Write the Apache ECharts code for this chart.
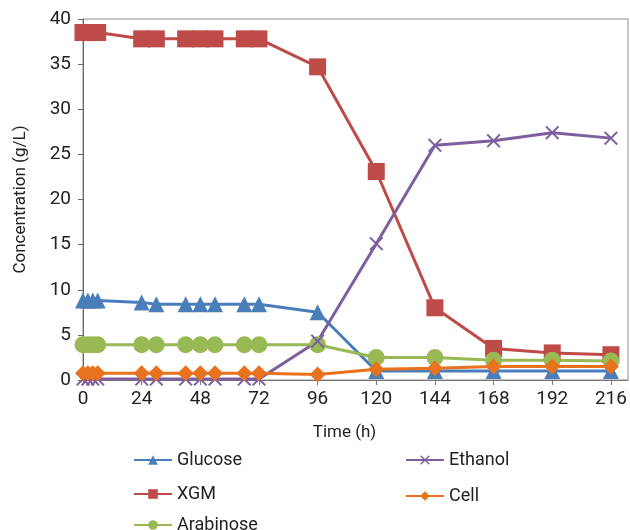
<!DOCTYPE html>
<html>
<head>
<meta charset="utf-8">
<script src="https://cdn.jsdelivr.net/npm/echarts@6/dist/echarts.min.js"></script>
<style>
html,body{margin:0;padding:0;background:#fff;}
#chart{width:630px;height:530px;}
</style>
</head>
<body>
<div id="chart"></div>
<script>
var times = [0, 2, 4, 6, 24, 30, 42, 48, 54, 66, 72, 96, 120, 144, 168, 192, 216];
var xTicks = [0, 24, 48, 72, 96, 120, 144, 168, 192, 216];
var glucose   = [8.8, 8.8, 8.8, 8.8, 8.6, 8.4, 8.4, 8.4, 8.4, 8.4, 8.4, 7.5, 1.0, 1.0, 1.0, 1.0, 1.0];
var xgm       = [38.5, 38.5, 38.5, 38.5, 37.8, 37.8, 37.8, 37.8, 37.8, 37.8, 37.8, 34.7, 23.1, 8.0, 3.5, 3.0, 2.8];
var arabinose = [3.9, 3.9, 3.9, 3.9, 3.9, 3.9, 3.9, 3.9, 3.9, 3.9, 3.9, 3.9, 2.5, 2.5, 2.2, 2.2, 2.1];
var ethanol   = [0.1, 0.1, 0.1, 0.1, 0.1, 0.1, 0.1, 0.1, 0.1, 0.1, 0.1, 4.3, 15.1, 26.0, 26.5, 27.4, 26.8];
var cell      = [0.75, 0.75, 0.75, 0.75, 0.75, 0.75, 0.75, 0.75, 0.75, 0.75, 0.75, 0.6, 1.2, 1.3, 1.5, 1.5, 1.5];

function pairs(vals){ return times.map(function(t,i){ return [t, vals[i]]; }); }

var FONT = 'Roboto, "Liberation Sans", sans-serif';
var crossPath = 'path://M0,1 L1,0 L5,4 L9,0 L10,1 L6,5 L10,9 L9,10 L5,6 L1,10 L0,9 L4,5 Z';

function mk(name, vals, color, symbol, size){
  return {
    name: name, type: 'line', data: pairs(vals),
    symbol: symbol, symbolSize: size, showAllSymbol: true,
    lineStyle: {width: 3, color: color},
    itemStyle: {color: color},
    emphasis: {disabled: true},
    animation: false
  };
}
function leg(name, left, top){
  return {data: [name], left: left, top: top, itemWidth: 38, itemHeight: 12, itemGap: 10,
    textStyle: {fontFamily: FONT, fontSize: 18, color: '#222'}};
}

var chart = echarts.init(document.getElementById('chart'));
chart.setOption({
  animation: false,
  grid: {left: 83, top: 19, right: 2, bottom: 150, show: true, borderColor: '#8c8c8c', borderWidth: 1},
  xAxis: {
    type: 'value', min: 0, max: 223,
    name: 'Time (h)', nameLocation: 'middle', nameGap: 44,
    nameTextStyle: {fontFamily: FONT, fontSize: 17, color: '#222', padding: [0, 22, 0, 0]},
    axisLine: {lineStyle: {color: '#777', width: 1}},
    axisTick: {show: true, inside: false, length: 5, customValues: xTicks, lineStyle: {color: '#777'}},
    axisLabel: {customValues: xTicks, fontFamily: FONT, fontSize: 19, color: '#222', margin: 10},
    splitLine: {show: false}
  },
  yAxis: {
    type: 'value', min: 0, max: 40, interval: 5,
    name: 'Concentration (g/L)', nameLocation: 'middle', nameGap: 54,
    nameTextStyle: {fontFamily: FONT, fontSize: 17, color: '#222'},
    axisLine: {show: true, lineStyle: {color: '#666', width: 1}},
    axisTick: {show: true, inside: false, length: 5, lineStyle: {color: '#666'}},
    axisLabel: {fontFamily: FONT, fontSize: 19, color: '#222', margin: 12},
    splitLine: {show: false}
  },
  legend: [
    leg('Glucose', 128, 446),
    leg('XGM', 128, 480),
    leg('Arabinose', 128, 511),
    leg('Ethanol', 400, 446),
    leg('Cell', 400, 482)
  ],
  series: [
    mk('Glucose', glucose, '#4A7EBB', 'triangle', 16),
    mk('XGM', xgm, '#BE4B48', 'rect', 17),
    mk('Arabinose', arabinose, '#98B954', 'circle', 17),
    mk('Ethanol', ethanol, '#7D5FA0', crossPath, 14),
    mk('Cell', cell, '#E8721E', 'diamond', 16)
  ]
});
</script>
</body>
</html>
